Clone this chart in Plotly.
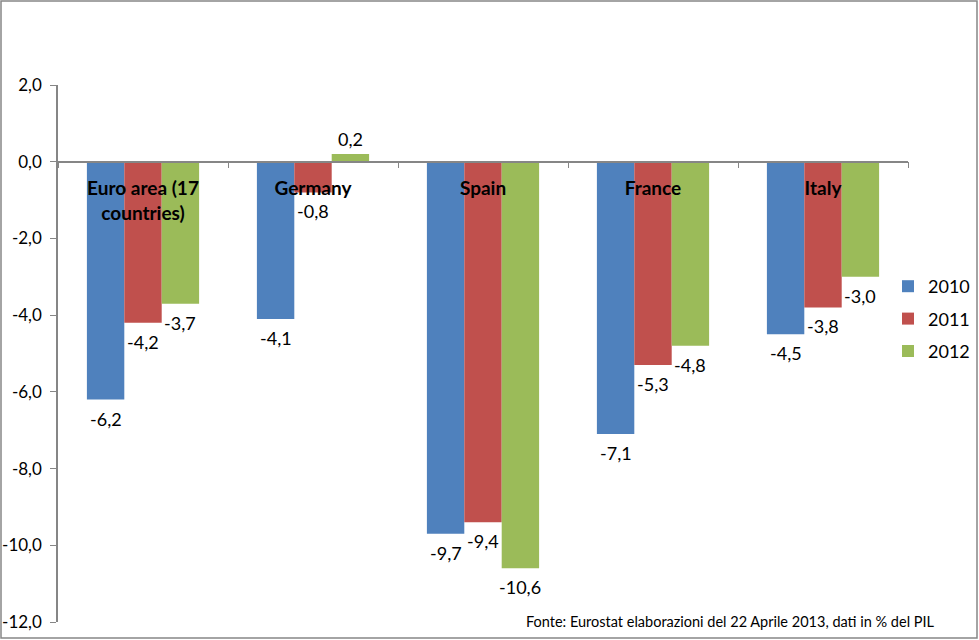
import plotly.graph_objects as go

categories = ["Euro area (17<br>countries)", "Germany", "Spain", "France", "Italy"]
series_names = ["2010", "2011", "2012"]
values_2010 = [-6.2, -4.1, -9.7, -7.1, -4.5]
values_2011 = [-4.2, -0.8, -9.4, -5.3, -3.8]
values_2012 = [-3.7, 0.2, -10.6, -4.8, -3.0]
colors = ["#4F81BD", "#C0504D", "#9BBB59"]
y_min, y_max = -12, 2
y_ticks = [2, 0, -2, -4, -6, -8, -10, -12]
y_tick_labels = ["2,0", "0,0", "-2,0", "-4,0", "-6,0", "-8,0", "-10,0", "-12,0"]
source_text = "Fonte: Eurostat elaborazioni del 22 Aprile 2013, dati in % del PIL"

W, H = 979, 640
ml, mr, mt, mb = 58, 71, 85, 18
bargap = 0.34
font_family = "Lato, 'Open Sans', sans-serif"

pw = W - ml - mr
ph = H - mt - mb
cat_px = pw / len(categories)
bar_px = cat_px * (1 - bargap) / len(series_names)

fig = go.Figure()
all_vals = [values_2010, values_2011, values_2012]
for i, (name, vals, col) in enumerate(zip(series_names, all_vals, colors)):
    fig.add_trace(go.Bar(
        x=categories, y=vals, name=name, marker_color=col,
        marker_line_width=0, legendgroup=name,
    ))
    for cat, v in zip(categories, vals):
        fig.add_annotation(
            x=cat, y=v, xref="x", yref="y", showarrow=False,
            text=f"{v:.1f}".replace(".", ","),
            xshift=(i - 1) * bar_px,
            yshift=(15 if v >= 0 else -19),
            yanchor="middle", xanchor="center",
            font=dict(size=18, color="black", family=font_family),
        )

fig.add_shape(type="rect", xref="paper", yref="paper",
              x0=(-ml + 1) / pw, x1=(W - ml - 2) / pw,
              y0=(-mb + 2) / ph, y1=(H - mb - 1) / ph,
              line=dict(color="#868686", width=1.5), layer="below")

fig.add_annotation(text=source_text, xref="paper", yref="paper",
                   x=(937 - ml) / pw, y=(H - mb - 621) / ph,
                   xanchor="right", yanchor="middle", showarrow=False,
                   font=dict(size=14.5, color="black", family=font_family))

fig.update_layout(
    width=W, height=H,
    margin=dict(l=ml, r=mr, t=mt, b=mb, autoexpand=False),
    paper_bgcolor="white", plot_bgcolor="white",
    barmode="group", bargap=bargap, bargroupgap=0,
    separators=",.",
    font=dict(family=font_family, color="black"),
    showlegend=True,
    legend=dict(xref="container", yref="container", x=888 / W, y=1 - 319 / H,
                xanchor="left", yanchor="middle",
                font=dict(size=18, family=font_family),
                itemwidth=30, tracegroupgap=6, bgcolor="rgba(0,0,0,0)"),
)

fig.update_yaxes(range=[y_min, y_max], tickmode="array",
                 tickvals=y_ticks, ticktext=y_tick_labels,
                 showgrid=False, zeroline=False, automargin=False,
                 showline=True, linecolor="#868686", linewidth=1.5,
                 ticks="outside", ticklen=6, tickcolor="#868686",
                 ticklabelstandoff=5,
                 tickfont=dict(size=17, family=font_family, color="black"))

fig.update_xaxes(anchor="free", position=(0 - y_min) / (y_max - y_min),
                 showline=True, linecolor="#868686", linewidth=1.5,
                 ticks="outside", ticklen=6, tickcolor="#868686",
                 tickson="boundaries", showgrid=False, automargin=False,
                 ticklabelstandoff=10,
                 tickfont=dict(size=19, family=font_family, color="black", weight="bold"))

fig.write_html("out.html")
